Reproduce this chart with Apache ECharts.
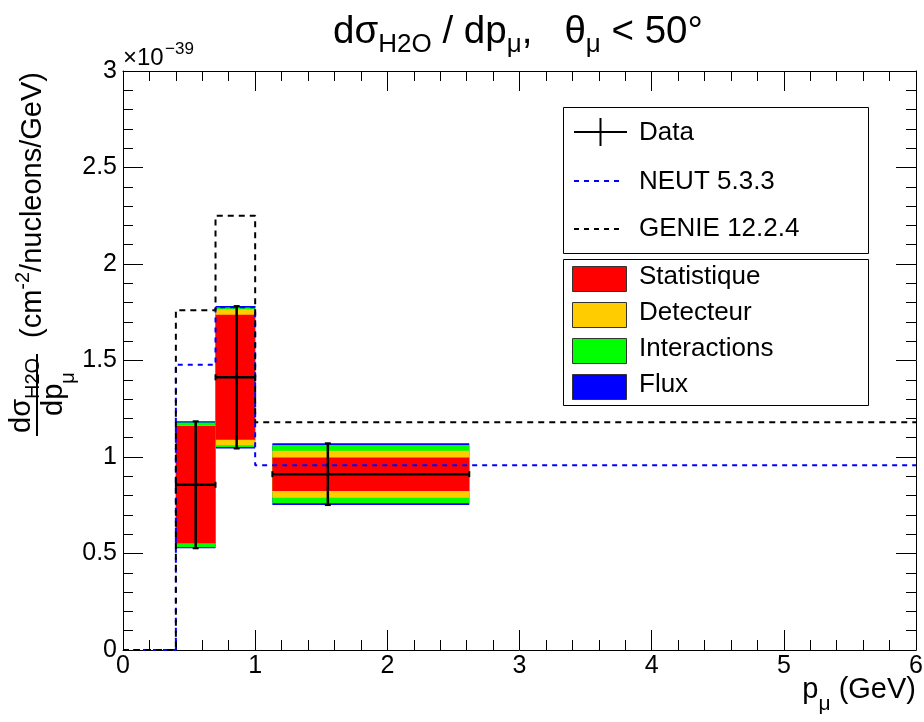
<!DOCTYPE html>
<html><head><meta charset="utf-8">
<script src="https://cdn.jsdelivr.net/npm/echarts@6/dist/echarts.min.js"></script>
<style>html,body{margin:0;padding:0;background:#fff}#c{width:924px;height:722px}</style>
</head><body><div id="c"></div>
<script>
// ---- data ----
const binEdges = [0, 0.4, 0.7, 1.0, 6.0];
const neutValues = [0, 1.478, 1.776, 0.957];
const genieValues = [0, 1.76, 2.25, 1.18];
const boxLow = [0.4, 0.7, 1.13];
const boxHigh = [0.7, 1.0, 2.62];
const dataX = [0.55, 0.86, 1.55];
const dataY = [0.856, 1.413, 0.911];
const errStat = [0.304, 0.324, 0.087];
const errDetector = [0.306, 0.352, 0.122];
const errInteractions = [0.323, 0.361, 0.151];
const errFlux = [0.329, 0.369, 0.160];
const bandNames = ['Statistique', 'Detecteur', 'Interactions', 'Flux'];
const bandColors = ['#ff0000', '#ffcc00', '#00ff00', '#0000ff'];
const modelNames = ['Data', 'NEUT 5.3.3', 'GENIE 12.2.4'];

const FONT = '"Liberation Sans", Arial, Helvetica, sans-serif';

function stepPoints(vals) {
  const pts = [];
  vals.forEach((v, i) => { pts.push([binEdges[i], v]); pts.push([binEdges[i + 1], v]); });
  return pts;
}
function bandData(err) {
  return dataY.map((y, i) => [boxLow[i], boxHigh[i], y, err[i]]);
}
function bandSeries(err, color, z) {
  return {
    type: 'custom', z: z, silent: true, clip: false,
    data: bandData(err),
    renderItem: function (params, api) {
      const p1 = api.coord([api.value(0), api.value(2) + api.value(3)]);
      const p2 = api.coord([api.value(1), api.value(2) - api.value(3)]);
      return { type: 'rect', shape: { x: p1[0], y: p1[1], width: p2[0] - p1[0], height: p2[1] - p1[1] },
               style: { fill: color, stroke: null } };
    }
  };
}

const axisCommon = {
  type: 'value',
  axisLine: { show: true, onZero: false, lineStyle: { color: '#000', width: 1 } },
  axisTick: { show: true, inside: true, length: 20, lineStyle: { color: '#000', width: 1 } },
  minorTick: { show: true, splitNumber: 5, length: 10, lineStyle: { color: '#000', width: 1 } },
  splitLine: { show: false },
  minorSplitLine: { show: false }
};

const option = {
  animation: false,
  backgroundColor: '#fff',
  grid: { left: 123, right: 8, top: 71, bottom: 72, containLabel: false, outerBoundsMode: 'none' },
  xAxis: [
    Object.assign({}, axisCommon, { min: 0, max: 6, interval: 1, position: 'bottom',
      axisLabel: { show: true, fontSize: 25, color: '#000', fontFamily: FONT, margin: 4,
        formatter: v => String(v) } }),
    Object.assign({}, axisCommon, { min: 0, max: 6, interval: 1, position: 'top', axisLabel: { show: false } })
  ],
  yAxis: [
    Object.assign({}, axisCommon, { min: 0, max: 3, interval: 0.5, position: 'left',
      axisLabel: { show: true, fontSize: 25, color: '#000', fontFamily: FONT, margin: 6,
        formatter: v => String(v) } }),
    Object.assign({}, axisCommon, { min: 0, max: 3, interval: 0.5, position: 'right', axisLabel: { show: false } })
  ],
  series: [
    bandSeries(errFlux, bandColors[3], 1),
    bandSeries(errInteractions, bandColors[2], 2),
    bandSeries(errDetector, bandColors[1], 3),
    bandSeries(errStat, bandColors[0], 4),
    {
      type: 'line', name: modelNames[1], z: 5, clip: false, symbol: 'none', silent: true,
      data: stepPoints(neutValues),
      lineStyle: { color: '#0000ff', width: 2, type: [5, 5] }
    },
    {
      type: 'line', name: modelNames[2], z: 6, clip: false, symbol: 'none', silent: true,
      data: stepPoints(genieValues),
      lineStyle: { color: '#000', width: 2, type: [6, 5] }
    },
    {
      type: 'custom', z: 7, silent: true, clip: false,
      data: dataY.map((y, i) => [dataX[i], y, boxLow[i], boxHigh[i], errFlux[i]]),
      renderItem: function (params, api) {
        const x = api.value(0), y = api.value(1), lo = api.value(2), hi = api.value(3), e = api.value(4);
        const a = api.coord([lo, y]), b = api.coord([hi, y]);
        const t = api.coord([x, y + e]), d = api.coord([x, y - e]);
        const st = { stroke: '#000', lineWidth: 2.5 };
        const st2 = { stroke: '#000', lineWidth: 2 };
        const c = 3;
        return { type: 'group', children: [
          { type: 'line', shape: { x1: a[0], y1: a[1], x2: b[0], y2: b[1] }, style: st },
          { type: 'line', shape: { x1: t[0], y1: t[1], x2: d[0], y2: d[1] }, style: st },
          { type: 'line', shape: { x1: t[0] - c, y1: t[1], x2: t[0] + c, y2: t[1] }, style: st2 },
          { type: 'line', shape: { x1: d[0] - c, y1: d[1], x2: d[0] + c, y2: d[1] }, style: st2 },
          { type: 'line', shape: { x1: a[0], y1: a[1] - c, x2: a[0], y2: a[1] + c }, style: st2 },
          { type: 'line', shape: { x1: b[0], y1: b[1] - c, x2: b[0], y2: b[1] + c }, style: st2 }
        ] };
      }
    }
  ],
  graphic: [
    // title
    { type: 'text', x: 518, y: 32, z: 20, style: {
        text: '{a|dσ}{s|H2O}{a| / dp}{s|μ}{a|,   θ}{s|μ}{a| < 50°}',
        align: 'center', verticalAlign: 'middle',
        rich: { a: { fontSize: 38.5, fontFamily: FONT, fill: '#000' },
                s: { fontSize: 26, fontFamily: FONT, fill: '#000', padding: [26, 0, 0, 0] } } } },
    // exponent
    { type: 'text', x: 123, y: 70, z: 20, style: { text: '×10', fontSize: 24, fontFamily: FONT, fill: '#000',
        align: 'left', verticalAlign: 'bottom' } },
    { type: 'text', x: 165, y: 58, z: 20, style: { text: '−39', fontSize: 17, fontFamily: FONT, fill: '#000',
        align: 'left', verticalAlign: 'bottom' } },
    // x-axis title
    { type: 'text', x: 916, y: 690, z: 20, style: {
        text: '{a|p}{s|μ}{a| (GeV)}', align: 'right', verticalAlign: 'middle',
        rich: { a: { fontSize: 29, fontFamily: FONT, fill: '#000' },
                s: { fontSize: 21, fontFamily: FONT, fill: '#000', padding: [28, 0, 0, 0] } } } },
    // y-axis title (rotated)
    { type: 'group', x: 37, y: 436, rotation: Math.PI / 2, z: 20, children: [
      { type: 'text', x: 3, y: -15, style: { text: '{a|dσ}{s|H2O}', align: 'left', verticalAlign: 'middle',
          rich: { a: { fontSize: 29, fontFamily: FONT, fill: '#000' },
                  s: { fontSize: 20, fontFamily: FONT, fill: '#000', padding: [22, 0, 0, 0] } } } },
      { type: 'line', shape: { x1: 0, y1: 0, x2: 82, y2: 0 }, style: { stroke: '#000', lineWidth: 2 } },
      { type: 'text', x: 20, y: 17, style: { text: '{a|dp}{s|μ}', align: 'left', verticalAlign: 'middle',
          rich: { a: { fontSize: 29, fontFamily: FONT, fill: '#000' },
                  s: { fontSize: 20, fontFamily: FONT, fill: '#000', padding: [28, 0, 0, 0] } } } },
      { type: 'text', x: 98, y: -4, style: { text: '{a|(cm}{p|-2}{a|/nucleons/GeV)}', align: 'left', verticalAlign: 'middle',
          rich: { a: { fontSize: 29, fontFamily: FONT, fill: '#000' },
                  p: { fontSize: 20, fontFamily: FONT, fill: '#000', padding: [0, 0, 20, 0] } } } }
    ] },
    // legend box 1
    { type: 'rect', z: 20, shape: { x: 563.5, y: 107.5, width: 305, height: 146 }, style: { fill: '#fff', stroke: '#000', lineWidth: 1 } },
    { type: 'line', z: 21, shape: { x1: 574, y1: 132, x2: 627, y2: 132 }, style: { stroke: '#000', lineWidth: 2 } },
    { type: 'line', z: 21, shape: { x1: 600.5, y1: 118, x2: 600.5, y2: 146 }, style: { stroke: '#000', lineWidth: 2 } },
    { type: 'text', z: 21, x: 639, y: 133, style: { text: modelNames[0], fontSize: 26, fontFamily: FONT, fill: '#000', verticalAlign: 'middle' } },
    { type: 'line', z: 21, shape: { x1: 574, y1: 181, x2: 624, y2: 181 }, style: { stroke: '#0000ff', lineWidth: 2, lineDash: [5, 5] } },
    { type: 'text', z: 21, x: 639, y: 182, style: { text: modelNames[1], fontSize: 26, fontFamily: FONT, fill: '#000', verticalAlign: 'middle' } },
    { type: 'line', z: 21, shape: { x1: 574, y1: 229, x2: 624, y2: 229 }, style: { stroke: '#000', lineWidth: 2, lineDash: [5, 5] } },
    { type: 'text', z: 21, x: 639, y: 229, style: { text: modelNames[2], fontSize: 26, fontFamily: FONT, fill: '#000', verticalAlign: 'middle' } },
    // legend box 2
    { type: 'rect', z: 20, shape: { x: 563.5, y: 259.5, width: 305, height: 146 }, style: { fill: '#fff', stroke: '#000', lineWidth: 1 } }
  ].concat(bandNames.flatMap((n, i) => [
    { type: 'rect', z: 21, shape: { x: 572.5, y: 266.5 + i * 36, width: 54, height: 25 }, style: { fill: bandColors[i], stroke: '#333', lineWidth: 1 } },
    { type: 'text', z: 21, x: 639, y: 277 + i * 36, style: { text: n, fontSize: 26, fontFamily: FONT, fill: '#000', verticalAlign: 'middle' } }
  ]))
};

const chart = echarts.init(document.getElementById('c'), null, { renderer: 'canvas', width: 924, height: 722 });
chart.setOption(option);
</script>
</body></html>
